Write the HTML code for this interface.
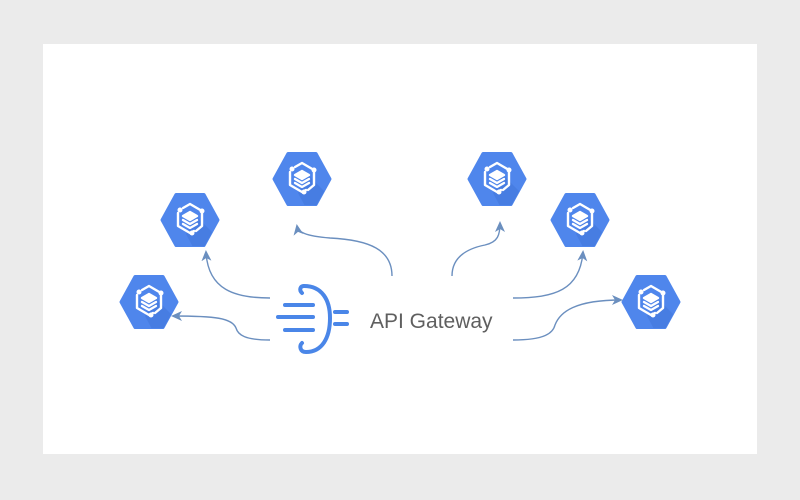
<!DOCTYPE html>
<html><head><meta charset="utf-8"><style>
html,body{margin:0;padding:0;background:#ebebeb;width:800px;height:500px;overflow:hidden}
svg{display:block}
</style></head><body>
<svg width="800" height="500" viewBox="0 0 800 500" xmlns="http://www.w3.org/2000/svg">
<rect x="43" y="44" width="714" height="410" fill="#fff"/>
<defs>
<clipPath id="hc"><polygon points="-29,0 -14.5,-26 14.5,-26 29,0 14.5,26 -14.5,26"/></clipPath>
<g id="hex">
<polygon points="-28,0 -14,-25.5 14,-25.5 28,0 14,25.5 -14,25.5" fill="#4f86ec" stroke="#4f86ec" stroke-width="3" stroke-linejoin="round"/>
<polygon points="6,-4 40,30 10,40 -4,14" fill="#3f74d8" opacity="0.5" clip-path="url(#hc)"/>
<g fill="none" stroke="#fff" stroke-width="2.4" stroke-linejoin="round" stroke-linecap="round">
<path d="M-7,-12 L0,-16 L12,-9 L12,6 L6,11"/>
<path d="M-12,-7 L-12,6 L0,13 L4,11"/>
<path d="M-7,-4 L0,-8 L7,-4 L0,0 Z" fill="#fff"/>
<path d="M-7,0 L0,4 L7,0"/>
<path d="M-7,4 L0,8 L7,4"/>
</g>
<circle cx="-10" cy="-10" r="2.5" fill="#fff"/>
<circle cx="12" cy="-9" r="2.5" fill="#fff"/>
<circle cx="2" cy="13" r="2.5" fill="#fff"/>
</g>
<marker id="ar" markerWidth="12" markerHeight="12" refX="9" refY="6" orient="auto" markerUnits="userSpaceOnUse">
<path d="M0,1 L11,6 L0,11 L3,6 Z" fill="#6b8fbf"/>
</marker>
</defs>
<use href="#hex" x="149" y="302"/>
<use href="#hex" x="190" y="220"/>
<use href="#hex" x="302" y="179"/>
<use href="#hex" x="497" y="179"/>
<use href="#hex" x="580" y="220"/>
<use href="#hex" x="651" y="302"/>
<g fill="none" stroke="#6b8fbf" stroke-width="1.4" marker-end="url(#ar)">
<path d="M270,340 C245,340 238,335 236,328 C232,318 215,316 173,316"/>
<path d="M270,298 C235,298 208,290 206,252"/>
<path d="M392,276 C392,250 370,240 330,238 C305,236 298,232 297,226"/>
<path d="M452,276 C452,255 470,248 485,245 C498,242 500,235 500,223"/>
<path d="M513,298 C555,298 580,290 583,252"/>
<path d="M513,340 C545,340 553,333 555,325 C560,312 575,300 621,300"/>
</g>
<g fill="none" stroke="#4a86e8" stroke-width="4" stroke-linecap="round">
<path d="M304,286 C322,286 330,300 330,318 C330,338 322,352 306,352 C300,352 299,346 302,343"/>
<path d="M304,286 C300,286 299,290 302,293"/>
<line x1="285" y1="305" x2="313" y2="305"/>
<line x1="278" y1="317" x2="313" y2="317"/>
<line x1="285" y1="330" x2="313" y2="330"/>
<line x1="335" y1="312" x2="347" y2="312"/>
<line x1="335" y1="324" x2="347" y2="324"/>
</g>
<text x="370" y="328" font-family="Liberation Sans, sans-serif" font-size="21" fill="#5f5f5f">API Gateway</text>
</svg>
</body></html>
